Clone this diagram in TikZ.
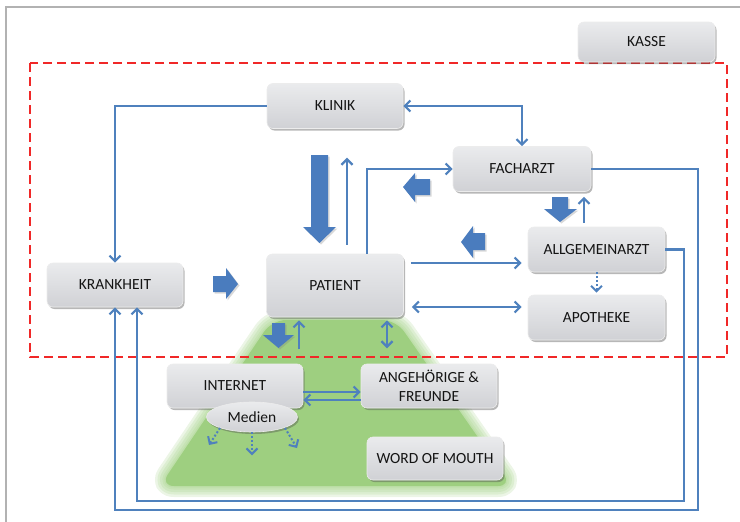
\documentclass[tikz,border=0pt]{standalone}
\usepackage{fontspec}
\setmainfont{Carlito}
\usetikzlibrary{arrows.meta,shadows,calc,shapes.geometric}
\definecolor{lblue}{RGB}{79,129,189}
\definecolor{bblue}{RGB}{74,124,190}
\definecolor{gcore}{RGB}{158,207,128}
\definecolor{boxtop}{RGB}{234,235,237}
\definecolor{boxbot}{RGB}{208,209,213}
\definecolor{dred}{RGB}{240,40,40}
\definecolor{txt}{RGB}{20,20,20}
\begin{document}
\begin{tikzpicture}[x=1pt,y=-1pt,
  barb/.tip={Straight Barb[length=5.5pt,width=11pt]},
  box/.style={rounded corners=6pt, top color=boxtop, bottom color=boxbot,
    draw=white!85!gray, line width=0.6pt, minimum width=136pt, minimum height=44pt,
    inner sep=0pt, align=center, text=txt, font=\fontsize{15.5}{18.5}\selectfont,
    drop shadow={shadow xshift=1.5pt, shadow yshift=-2pt, opacity=0.4, fill=black!70}},
  conn/.style={draw=lblue, line width=2.2pt, -barb},
  dconn/.style={draw=lblue, line width=2.2pt, barb-barb},
  dotconn/.style={draw=lblue, line width=2pt, dash pattern=on 2pt off 2pt, -barb},
  blockarrow/.style={fill=bblue, drop shadow={shadow xshift=1.5pt, shadow yshift=-1.5pt, opacity=0.3}},
  reddash/.style={draw=dred, line width=2pt, dash pattern=on 9pt off 5pt},
  greenarea/.style={rounded corners=14pt, line join=round}
]
\useasboundingbox (0,0) rectangle (740,522);
% outer frame
\draw[gray!60, line width=1.5pt] (6,522) -- (6,7) -- (740,7);
% green area with soft edge
\foreach \w in {22,17,12,7,3}
  \path[greenarea, draw=gcore, draw opacity=0.2, line width=\w pt] (272,320) -- (396,320) -- (512,486) -- (160,486) -- cycle;
\path[greenarea, fill=gcore] (272,320) -- (396,320) -- (512,486) -- (160,486) -- cycle;
% red dashed region
\draw[reddash] (30,63) rectangle (727,357);
% nodes
\node[box, minimum width=137pt, minimum height=40pt] (kasse) at (646.5,42) {KASSE};
\node[box, minimum height=45pt] (klinik) at (335,106) {KLINIK};
\node[box, minimum width=138pt, minimum height=45pt] (fach) at (522,169) {FACHARZT};
\node[box] (krank) at (115,285) {KRANKHEIT};
\node[box, minimum width=137pt, minimum height=63pt] (pat) at (335,285.5) {PATIENT};
\node[box, minimum width=137pt, minimum height=45pt] (allg) at (596.5,249.5) {ALLGEMEINARZT};
\node[box, minimum width=137pt, minimum height=45pt] (apo) at (596.5,317.5) {APOTHEKE};
\node[box] (inet) at (235,386) {INTERNET};
\node[box] (ang) at (429,386) {ANGEHÖRIGE \&\\FREUNDE};
\node[box, minimum height=43pt] (wom) at (435,458.5) {WORD OF MOUTH};
\node[box, ellipse, rounded corners=0pt, minimum width=91pt, minimum height=30pt] (med) at (252,417) {Medien};
% thin connectors
\draw[dconn] (klinik.east) -| (fach.north);
\draw[conn] (klinik.west) -| (krank.north);
\draw[conn] ($(pat.north)+(32,0)$) |- (fach.west);
\coordinate (up1) at ($(pat.north)+(12,-9)$);
\draw[conn] (up1) -- ++(0,-87);
\coordinate (a1) at ($(allg.north)+(-12.5,0)$);
\draw[conn, shorten <=4pt, shorten >=5pt] (a1) -- (a1 |- fach.south);
\draw[conn, shorten <=7pt, shorten >=6pt] ($(pat.east)+(0,-22.5)$) -- ($(allg.west)+(0,13.5)$);
\draw[dconn, shorten <=8pt, shorten >=6pt] ($(pat.east)+(0,21.5)$) -- ($(apo.west)+(0,-10.5)$);
\draw[dotconn, shorten >=2pt] (allg.south) -- (apo.north);
\coordinate (up2) at ($(pat.south)+(-36,32)$);
\draw[conn, shorten >=3pt] (up2) -- (up2 |- pat.south);
\coordinate (d2) at ($(pat.south)+(52,31)$);
\draw[dconn, shorten >=3pt] (d2) -- (d2 |- pat.south);
\draw[conn] ($(inet.east)+(0,6)$) -- ($(ang.west)+(0,6)$);
\draw[conn] ($(ang.west)+(0,14)$) -- ($(inet.east)+(0,14)$);
\draw[dotconn] ($(med)+(-32,11)$) -- ++(-11,17);
\draw[dotconn] (med.south) -- ++(0,23);
\draw[dotconn] ($(med)+(33,11)$) -- ++(12,20);
\draw[conn] (fach.east) -| (698,510) -| (krank.south);
\draw[conn] (allg.east) -| (684,501) -| ($(krank.south)+(22,0)$);
% block arrows
\fill[blockarrow] (311,155) -- (328,155) -- (328,227) -- (336,227) -- (319.5,243) -- (303,227) -- (311,227) -- cycle;
\fill[blockarrow] (430,179) -- (415,179) -- (415,173) -- (403,187) -- (415,202) -- (415,195) -- (430,195) -- cycle;
\fill[blockarrow] (485,233) -- (473,233) -- (473,226) -- (461,242) -- (473,258) -- (473,250) -- (485,250) -- cycle;
\fill[blockarrow] (552,197) -- (568,197) -- (568,209) -- (577,209) -- (560,222) -- (544,209) -- (552,209) -- cycle;
\fill[blockarrow] (213,276) -- (226,276) -- (226,268) -- (238,284) -- (226,299) -- (226,292) -- (213,292) -- cycle;
\fill[blockarrow] (272,323) -- (285,323) -- (285,335) -- (294,335) -- (278.5,348) -- (263,335) -- (272,335) -- cycle;
\end{tikzpicture}
\end{document}
